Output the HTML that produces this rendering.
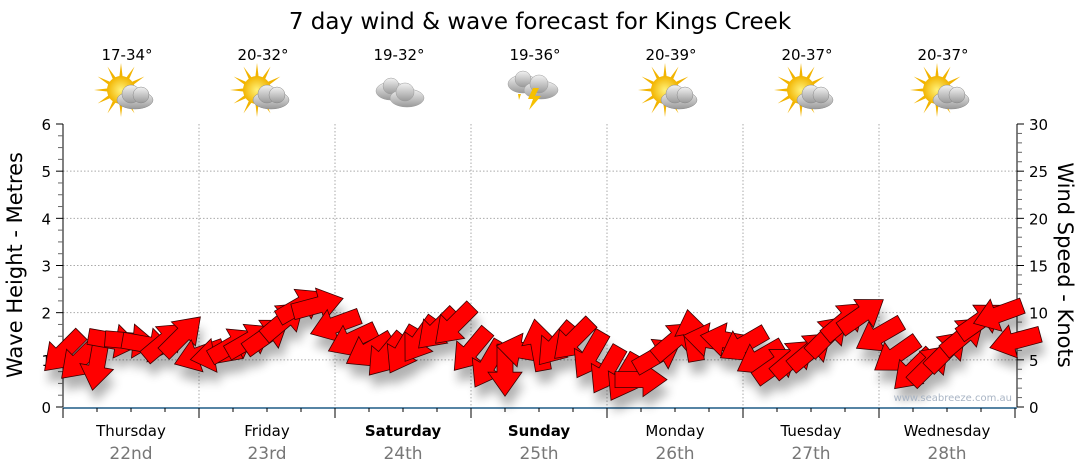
<!DOCTYPE html>
<html><head><meta charset="utf-8"><style>
html,body{margin:0;padding:0;background:#fff;width:1080px;height:475px;overflow:hidden}
svg{display:block;font-family:"DejaVu Sans","Liberation Sans",sans-serif}
</style></head><body>
<svg id="c" width="1080" height="475">
<defs>
<filter id="sh" x="-50%" y="-50%" width="200%" height="200%"><feGaussianBlur stdDeviation="5"/></filter>
<radialGradient id="sun" cx="0.5" cy="0.5" r="0.5"><stop offset="0" stop-color="#fff27a"/><stop offset="1" stop-color="#f2b400"/></radialGradient>
<linearGradient id="cl" x1="0" y1="0" x2="0" y2="1"><stop offset="0" stop-color="#f2f2f2"/><stop offset="1" stop-color="#9a9a9a"/></linearGradient>
</defs>
<text x="540" y="29" text-anchor="middle" font-size="23" fill="#000">7 day wind &amp; wave forecast for Kings Creek</text>
<g id="grid"></g><g id="axes"></g><g id="top"></g><g id="shadows" filter="url(#sh)" opacity="0.3"></g><g id="arrows"></g>
<text x="1012" y="401" text-anchor="end" font-size="10" fill="#a8b4c4">www.seabreeze.com.au</text>
<text transform="translate(22,265) rotate(-90)" text-anchor="middle" font-size="21">Wave Height - Metres</text>
<text transform="translate(1058,265) rotate(90)" text-anchor="middle" font-size="21">Wind Speed - Knots</text>
</svg>
<script>
const days=["Thursday","Friday","Saturday","Sunday","Monday","Tuesday","Wednesday"];
const dates=["22nd","23rd","24th","25th","26th","27th","28th"];
const temps=["17-34°","20-32°","19-32°","19-36°","20-39°","20-37°","20-37°"];
const icons=["suncloud","suncloud","cloud","storm","suncloud","suncloud","suncloud"];
const waveTicks=[0,1,2,3,4,5,6];
const windTicks=[0,5,10,15,20,25,30];
const windSpeed=[5.8,5,4.5,7,7,6.6,7,7.6, 5.5,5.5,6.6,7.1,7.6,9.2,10.8,10.8, 8.7,7.1,6,5.5,6,7.1,8.2,8.7, 6,4.5,3.9,6,6.6,6.6,7.1,5.5, 3.9,3.1,2.9,5.5,7.1,7.6,7.1,7.1, 6.6,5.2,4.5,5.2,6,7.6,9.2,9.8, 7.6,5.5,3.9,4.5,6,7.6,9.2,9.8,7];
const windDir=[135,135,100,10,5,10,-40,-45, 160,170,-30,-30,-35,-40,-30,-15, 160,155,150,130,120,125,135,135, 130,120,90,190,-100,130,135,120, 120,120,0,-30,-40,-100,190,190, 150,150,-35,-40,-40,-45,-40,-35, 150,145,135,-45,-45,-40,-35,160,165];
const X0=63,X1=1017,Y0=407,Y1=124,DW=136;
const yw=v=>Y0-(v/6)*(Y0-Y1);
const yk=v=>Y0-(v/30)*(Y0-Y1);
const xt=i=>X0+i*17;
const NS="http://www.w3.org/2000/svg";
function mk(p,t,a){const e=document.createElementNS(NS,t);for(const k in a)e.setAttribute(k,a[k]);document.getElementById(p).appendChild(e);return e;}
for(let v=1;v<=5;v++){const l=mk('grid','line',{x1:X0,x2:X1,y1:yw(v),y2:yw(v),stroke:'#aaa','stroke-dasharray':'1.5,2'});

}
for(let d=1;d<7;d++){const l=mk('grid','line',{x1:X0+d*DW,x2:X0+d*DW,y1:Y1,y2:Y0,stroke:'#aaa','stroke-dasharray':'1.5,2'});

}
let a=mk('axes','line',{x1:X0,x2:X0,y1:Y1,y2:Y0,stroke:'#000'});


a=mk('axes','line',{x1:X1,x2:X1,y1:Y1,y2:Y0,stroke:'#000'});


for(let i=0;i<=24;i++){const y=yw(i/4);const L=i%4==0?7:5;
mk('axes','line',{x1:X0-L,x2:X0,y1:y,y2:y,stroke:i%4==0?'#000':'#666'});}
for(let i=0;i<=30;i++){const y=yk(i);const L=i%5==0?7:5;
mk('axes','line',{x1:X1,x2:X1+L,y1:y,y2:y,stroke:i%5==0?'#000':'#666'});}
waveTicks.forEach(v=>{const t=mk('axes','text',{x:X0-12,y:yw(v)+6,'text-anchor':'end','font-size':15});t.textContent=v;

});
windTicks.forEach(v=>{const t=mk('axes','text',{x:X1+12,y:yk(v)+6,'font-size':15});t.textContent=v;

});
a=mk('axes','line',{x1:X0,x2:X1,y1:Y0+1,y2:Y0+1,stroke:'#1f5b86','stroke-width':1.5});


for(let i=0;i<=28;i++){const x=X0+i*34;mk('axes','line',{x1:x,x2:x,y1:Y0+1,y2:Y0+(i%4==0?11:5),stroke:'#000'});}
days.forEach((d,i)=>{const cx=X0+DW*i+DW/2;
const t=mk('axes','text',{x:cx,y:436,'text-anchor':'middle','font-size':15,'font-weight':(i==2||i==3)?'bold':'normal'});t.textContent=d;


const t2=mk('axes','text',{x:cx,y:459,'text-anchor':'middle','font-size':17,fill:'#777'});t2.textContent=dates[i];


const t3=mk('top','text',{x:cx-4,y:60,'text-anchor':'middle','font-size':15});t3.textContent=temps[i];


const g=mk('top','g',{transform:`translate(${cx-4},92)`});


let h='';
if(icons[i]=='suncloud'){
 for(let k=0;k<12;k++){const an=k*30*Math.PI/180;h+=`<polygon points="${-6+Math.cos(an)*27},${-2+Math.sin(an)*27} ${-6+Math.cos(an+0.15)*12},${-2+Math.sin(an+0.15)*12} ${-6+Math.cos(an-0.15)*12},${-2+Math.sin(an-0.15)*12}" fill="#f2b400"/>`;}
 h+=`<circle cx="-6" cy="-2" r="14" fill="url(#sun)"/>`;
 h+=`<g fill="url(#cl)" stroke="#888" stroke-width="0.5"><ellipse cx="8" cy="8" rx="18" ry="9"/><circle cx="4" cy="2" r="9"/><circle cx="14" cy="3" r="8"/></g>`;
}else if(icons[i]=='cloud'){
 h=`<g fill="url(#cl)" stroke="#999" stroke-width="0.5"><ellipse cx="-8" cy="-1" rx="15" ry="9"/><circle cx="-8" cy="-6" r="8"/><ellipse cx="8" cy="6" rx="17" ry="9"/><circle cx="6" cy="0" r="9"/></g>`;
}else{
 h=`<g fill="url(#cl)" stroke="#999" stroke-width="0.5"><ellipse cx="-12" cy="-8" rx="15" ry="9"/><circle cx="-12" cy="-13" r="8"/><ellipse cx="6" cy="-2" rx="17" ry="9"/><circle cx="4" cy="-8" r="9"/></g><polygon points="-2,-4 4,-4 0,4 6,4 -6,18 -2,7 -7,7" fill="#f6c000"/><polygon points="-17,2 -14,2 -16,8" fill="#f6c000"/>`;
}
g.innerHTML=h;});
const shape="M-26,-8 L2,-8 L2,-17 L26,0 L2,17 L2,8 L-26,8 Z";
windSpeed.forEach((v,i)=>{const x=xt(i),y=yk(v),r=windDir[i];
mk('shadows','path',{d:shape,fill:'#000',transform:`translate(${x+3},${y+12}) rotate(${r})`});
const p=mk('arrows','path',{d:shape,fill:'#ff0000',stroke:'#3a0000','stroke-width':0.8,transform:`translate(${x},${y}) rotate(${r})`});

});
</script>
</body></html>
